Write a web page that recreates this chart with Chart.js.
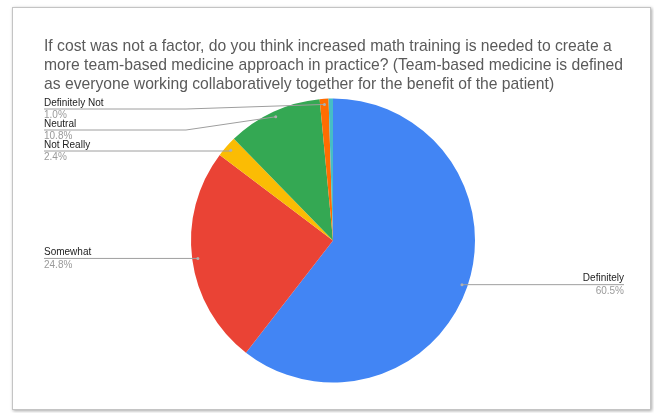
<!DOCTYPE html>
<html>
<head>
<meta charset="utf-8">
<script src="https://cdn.jsdelivr.net/npm/chart.js@4/dist/chart.umd.min.js"></script>
<style>
  html, body { margin: 0; padding: 0; background: #fff; }
  #frame {
    position: absolute; left: 12px; top: 7px; width: 637px; height: 401px;
    border: 1px solid #c4c4c4; box-shadow: 1px 1px 3px rgba(0,0,0,0.35);
    background: #fff;
  }
  #wrap { position: absolute; left: 0; top: 0; width: 654px; height: 413px; }
</style>
</head>
<body>
<div id="frame"></div>
<div id="wrap"><canvas id="grafico" width="654" height="413"></canvas></div>
<script>
const titulo = [
  'If cost was not a factor, do you think increased math training is needed to create a',
  'more team-based medicine approach in practice? (Team-based medicine is defined',
  'as everyone working collaboratively together for the benefit of the patient)'
];
const categorias = ['Definitely', 'Somewhat', 'Not Really', 'Neutral', 'Definitely Not', ''];
const porcentajes = [60.5, 24.8, 2.4, 10.8, 1.0, 0.5];
const etiquetas = ['60.5%', '24.8%', '2.4%', '10.8%', '1.0%', ''];
const colores = ['#4285F4', '#EA4335', '#FBBC04', '#34A853', '#FF6D01', '#46BDC6'];

const FUENTE = '"Liberation Sans", Arial, sans-serif';

const etiquetasPlugin = {
  id: 'etiquetas',
  afterDraw(chart) {
    const c = chart.ctx;
    c.save();
    // titulo
    c.fillStyle = '#5a5a5a';
    c.font = '15.7px ' + FUENTE;
    c.textBaseline = 'middle';
    c.textAlign = 'left';
    titulo.forEach((t, i) => c.fillText(t, 44, 47 + i * 18.7));

    const arcos = chart.getDatasetMeta(0).data;
    const puntos = [];
    arcos.forEach((a, i) => {
      if (!categorias[i]) return;
      const ang = (a.startAngle + a.endAngle) / 2;
      const r = a.outerRadius * 0.96;
      puntos.push({ i, x: a.x + Math.cos(ang) * r, y: a.y + Math.sin(ang) * r, izq: Math.cos(ang) < 0 });
    });

    const izq = puntos.filter(p => p.izq).sort((a, b) => a.y - b.y);
    const der = puntos.filter(p => !p.izq).sort((a, b) => a.y - b.y);
    let prev = 88;
    izq.forEach(p => { p.ly = Math.max(p.y, prev + 21); prev = p.ly; });
    prev = 88;
    der.forEach(p => { p.ly = Math.max(p.y, prev + 21); prev = p.ly; });

    puntos.forEach(p => {
      c.strokeStyle = '#9e9e9e';
      c.lineWidth = 1;
      c.beginPath();
      if (p.izq) {
        c.moveTo(44, p.ly);
        const quiebre = Math.abs(p.ly - p.y) > 1 ? 186 : p.x;
        c.lineTo(quiebre, p.ly);
        c.lineTo(p.x, p.y);
      } else {
        c.moveTo(p.x, p.y);
        c.lineTo(624, p.ly);
      }
      c.stroke();
      c.fillStyle = '#b0b0b0';
      c.beginPath();
      c.arc(p.x, p.y, 1.5, 0, Math.PI * 2);
      c.fill();

      const tx = p.izq ? 44 : 624;
      c.textAlign = p.izq ? 'left' : 'right';
      c.font = '10px ' + FUENTE;
      c.fillStyle = '#222';
      c.fillText(categorias[p.i], tx, p.ly - 6);
      c.fillStyle = '#9a9a9a';
      c.fillText(etiquetas[p.i], tx, p.ly + 6.5);
    });
    c.restore();
  }
};

new Chart(document.getElementById('grafico'), {
  type: 'pie',
  data: {
    labels: categorias,
    datasets: [{
      data: porcentajes,
      backgroundColor: colores,
      borderWidth: 0
    }]
  },
  options: {
    responsive: false,
    animation: false,
    layout: { padding: { left: 100, right: 88, top: 98.5, bottom: 30.5 } },
    plugins: {
      legend: { display: false },
      tooltip: { enabled: false }
    }
  },
  plugins: [etiquetasPlugin]
});
</script>
</body>
</html>
